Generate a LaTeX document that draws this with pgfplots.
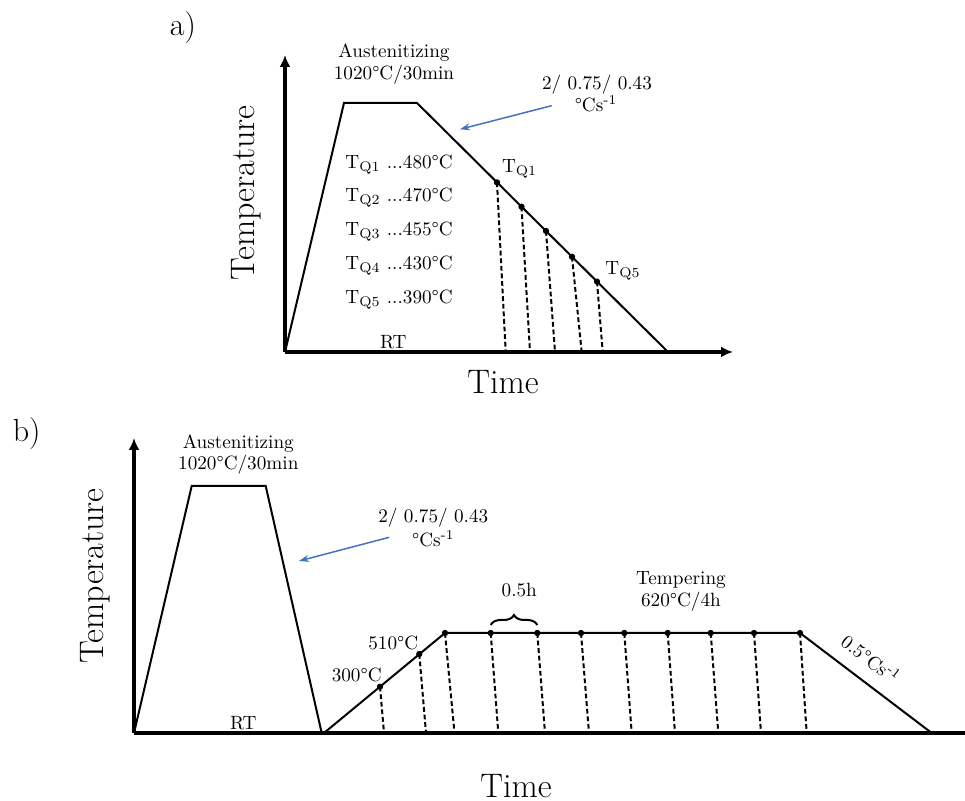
\documentclass[border=0pt]{standalone}
\usepackage{pgfplots}
\pgfplotsset{compat=1.18}
\usetikzlibrary{arrows.meta,decorations.pathreplacing}
\definecolor{arrowblue}{RGB}{68,114,196}

\tikzset{
  lab/.style={font=\fontsize{9.6}{11.5}\selectfont, inner sep=0pt},
  big/.style={font=\fontsize{17}{20}\selectfont, inner sep=0pt},
  panel/.style={font=\fontsize{16}{19}\selectfont, inner sep=0pt},
}
\pgfplotsset{
  axline/.style={black, line width=2pt, -{Latex[length=6pt,width=5.5pt]}},
  baseline axis/.style={black, line width=2pt},
  prof/.style={black, line width=1pt, line join=miter},
  drop/.style={black, line width=1pt, dash pattern=on 2.4pt off 1.4pt},
  pts/.style={only marks, mark=*, mark size=1.35pt, black},
  rate/.style={arrowblue, line width=0.75pt, -{Stealth[length=5pt,width=3.5pt]}},
}

\begin{document}
\begin{tikzpicture}
\begin{axis}[
  width=482.5pt, height=400.5pt, scale only axis,
  xmin=0, xmax=965, ymin=0, ymax=801,
  hide axis, clip=false,
]
% ---------------- a) quenching to T_Q ----------------
\addplot[axline] coordinates {(285,449) (285,746)};
\addplot[axline] coordinates {(285,449) (733,449)};
\addplot[prof] coordinates {(285,449) (344,698) (417,698) (668,449)};
% quench stops and the drops to room temperature
\addplot[drop] coordinates {(497,618.6) (505.7,449)};
\addplot[drop] coordinates {(521.5,594.3) (530,449)};
\addplot[drop] coordinates {(546,570.0) (555,449)};
\addplot[drop] coordinates {(572,544.2) (581.7,449)};
\addplot[drop] coordinates {(597,519.4) (602.7,449)};
\addplot[pts] coordinates {(497,618.6) (521.5,594.3) (546,570.0) (572,544.2) (597,519.4)};
\addplot[rate] coordinates {(551.7,695.3) (460,671.7)};

\node[panel] at (183,773) {a)};
\node[big, rotate=90] at (246,608) {Temperature};
\node[big] at (503,419) {Time};
\node[lab] at (394,748) {Austenitizing};
\node[lab] at (394,726) {1020\textdegree C/30min};
\node[lab] at (597,716) {2/ 0.75/ 0.43};
\node[lab] at (596,697) {\textdegree Cs\textsuperscript{-1}};
\node[lab, anchor=base west] at (345,632.7) {T$_{\mathrm{Q1}}$ ...480\textdegree C};
\node[lab, anchor=base west] at (345,599.3) {T$_{\mathrm{Q2}}$ ...470\textdegree C};
\node[lab, anchor=base west] at (345,565) {T$_{\mathrm{Q3}}$ ...455\textdegree C};
\node[lab, anchor=base west] at (345,531.7) {T$_{\mathrm{Q4}}$ ...430\textdegree C};
\node[lab, anchor=base west] at (345,497) {T$_{\mathrm{Q5}}$ ...390\textdegree C};
\node[lab, anchor=base west] at (501.7,628.3) {T$_{\mathrm{Q1}}$};
\node[lab, anchor=base west] at (605,526) {T$_{\mathrm{Q5}}$};
\node[lab] at (393.3,459.3) {RT};

% ---------------- b) quench and tempering ----------------
\addplot[axline] coordinates {(134,68) (134,363)};
\addplot[baseline axis] coordinates {(134,68) (965,68)};
\addplot[prof] coordinates {(134,68) (191.7,315) (265.7,315) (321.7,68)};
\addplot[prof] coordinates {(324,68) (445,168) (800,168) (931.7,68)};
% sampling points on heating ramp and holding stage
\addplot[drop] coordinates {(380,114.3) (384,68)};
\addplot[drop] coordinates {(419.3,147) (426,68)};
\addplot[drop] coordinates {(445,168) (454.5,68)};
\addplot[drop] coordinates {(490.7,168) (498.3,68)};
\addplot[drop] coordinates {(537.3,168) (545,68)};
\addplot[drop] coordinates {(581,168) (589,68)};
\addplot[drop] coordinates {(624.3,168) (631.7,68)};
\addplot[drop] coordinates {(667.7,168) (675,68)};
\addplot[drop] coordinates {(710.7,168) (718.3,68)};
\addplot[drop] coordinates {(754,168) (761,68)};
\addplot[drop] coordinates {(800,168) (806.7,68)};
\addplot[pts] coordinates {(380,114.3) (419.3,147) (445,168) (490.7,168) (537.3,168)
  (581,168) (624.3,168) (667.7,168) (710.7,168) (754,168) (800,168)};
\addplot[rate] coordinates {(389.3,263.7) (299,240)};

\draw[black, line width=1pt, decorate, decoration={brace, amplitude=5pt}]
  (490.7,176) -- (537.3,176);

\node[panel] at (26.7,367.7) {b)};
\node[big, rotate=90] at (95,225.2) {Temperature};
\node[big] at (516,15) {Time};
\node[lab] at (238.3,357.7) {Austenitizing};
\node[lab] at (238.3,336) {1020\textdegree C/30min};
\node[lab] at (433.3,283.7) {2/ 0.75/ 0.43};
\node[lab] at (433.3,262) {\textdegree Cs\textsuperscript{-1}};
\node[lab] at (393.3,157.7) {510\textdegree C};
\node[lab] at (356.7,126) {300\textdegree C};
\node[lab] at (243.3,77.7) {RT};
\node[lab] at (519.3,211) {0.5h};
\node[lab] at (681,221) {Tempering};
\node[lab] at (681,199) {620\textdegree C/4h};
\node[lab, rotate=-37.6] at (871,142) {0.5\textdegree Cs\textsuperscript{-1}};
\end{axis}
\pgfresetboundingbox
\path (0,0) rectangle (482.5pt,400.5pt);
\end{tikzpicture}
\end{document}
